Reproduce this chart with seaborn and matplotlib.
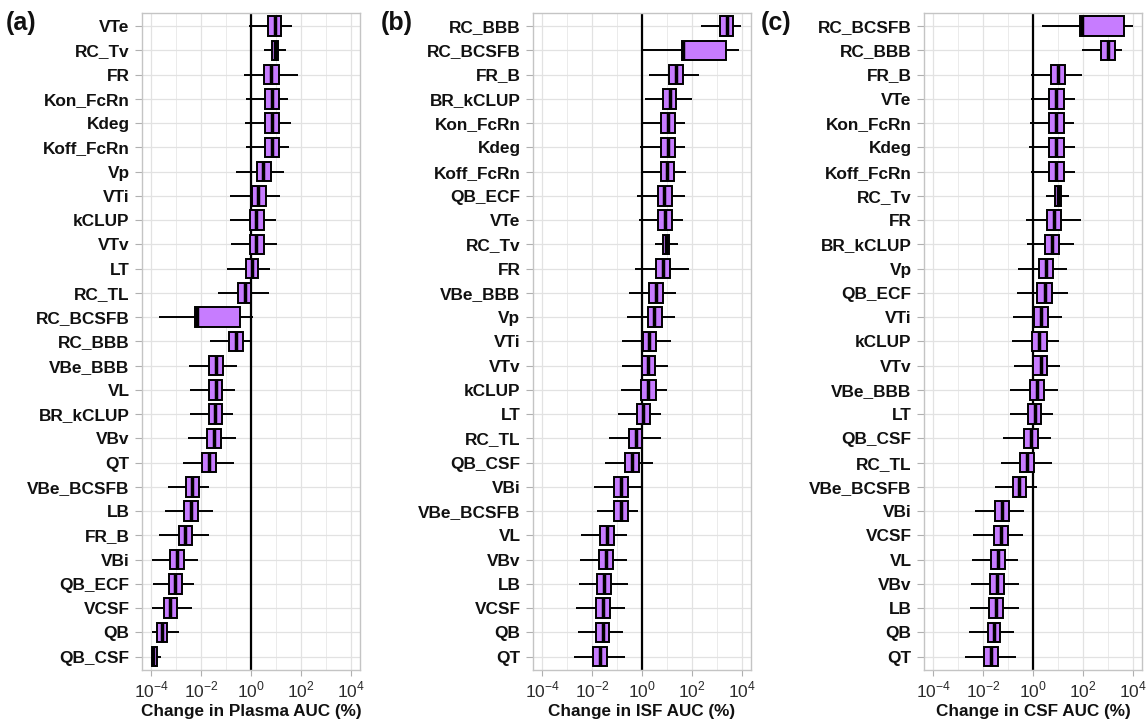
import numpy as np
import pandas as pd
import matplotlib
matplotlib.use("Agg")
import matplotlib.pyplot as plt
import seaborn as sns

sns.set_theme(style="white")
plt.rcParams['font.family'] = ['Liberation Sans', 'DejaVu Sans']
plt.rcParams['mathtext.fontset'] = 'custom'
plt.rcParams['mathtext.rm'] = 'Liberation Sans'

# ---- data (log10 of % change): whisker low, Q1, median, Q3, whisker high ----
cats_a = ["VTe", "RC_Tv", "FR", "Kon_FcRn", "Kdeg", "Koff_FcRn", "Vp", "VTi", "kCLUP", "VTv", "LT", "RC_TL",
          "RC_BCSFB", "RC_BBB", "VBe_BBB", "VL", "BR_kCLUP", "VBv", "QT", "VBe_BCSFB", "LB", "FR_B", "VBi",
          "QB_ECF", "VCSF", "QB", "QB_CSF"]
lo_a = [-0.09, 0.49, -0.29, -0.23, -0.27, -0.20, -0.63, -0.85, -0.87, -0.81, -0.96, -1.32, -3.71, -1.67, -2.49,
        -2.47, -2.45, -2.52, -2.73, -3.35, -3.44, -3.68, -3.96, -3.95, -3.97, -3.97, -3.99]
q1_a = [0.67, 0.83, 0.51, 0.56, 0.56, 0.56, 0.21, 0.03, -0.05, -0.04, -0.21, -0.52, -2.25, -0.88, -1.68, -1.69,
        -1.69, -1.76, -1.96, -2.63, -2.68, -2.91, -3.24, -3.29, -3.49, -3.76, -3.98]
med_a = [0.93, 0.95, 0.80, 0.83, 0.83, 0.83, 0.47, 0.27, 0.20, 0.20, 0.03, -0.24, -2.19, -0.63, -1.43, -1.43,
         -1.45, -1.51, -1.69, -2.37, -2.41, -2.64, -2.99, -3.04, -3.24, -3.59, -3.94]
q3_a = [1.17, 1.07, 1.09, 1.11, 1.11, 1.11, 0.77, 0.59, 0.51, 0.49, 0.28, 0.00, -0.45, -0.35, -1.13, -1.16,
        -1.17, -1.23, -1.43, -2.11, -2.12, -2.36, -2.71, -2.79, -2.99, -3.37, -3.79]
hi_a = [1.63, 1.40, 1.87, 1.48, 1.57, 1.52, 1.31, 1.13, 1.00, 1.01, 0.75, 0.71, 0.07, -0.04, -0.59, -0.64,
        -0.75, -0.61, -0.69, -1.69, -1.52, -1.71, -2.15, -2.29, -2.37, -2.91, -3.61]

cats_b = ["RC_BBB", "RC_BCSFB", "FR_B", "BR_kCLUP", "Kon_FcRn", "Kdeg", "Koff_FcRn", "QB_ECF", "VTe", "RC_Tv",
          "FR", "VBe_BBB", "Vp", "VTi", "VTv", "kCLUP", "LT", "RC_TL", "QB_CSF", "VBi", "VBe_BCSFB", "VL", "VBv",
          "LB", "VCSF", "QB", "QT"]
lo_b = [2.33, 0.04, 0.25, 0.12, 0.00, -0.08, 0.03, -0.21, -0.12, 0.49, -0.31, -0.52, -0.61, -0.83, -0.80, -0.85,
        -0.96, -1.32, -1.48, -1.92, -1.81, -2.44, -2.51, -2.55, -2.65, -2.57, -2.75]
q1_b = [3.11, 1.57, 1.07, 0.84, 0.75, 0.73, 0.73, 0.61, 0.63, 0.83, 0.53, 0.28, 0.21, 0.03, -0.03, -0.05, -0.21,
        -0.53, -0.69, -1.12, -1.12, -1.69, -1.73, -1.80, -1.84, -1.84, -1.99]
med_b = [3.37, 1.62, 1.33, 1.09, 1.01, 1.01, 1.00, 0.88, 0.91, 0.95, 0.81, 0.55, 0.47, 0.28, 0.24, 0.23, 0.04,
         -0.25, -0.40, -0.84, -0.84, -1.41, -1.47, -1.52, -1.56, -1.59, -1.71]
q3_b = [3.64, 3.35, 1.61, 1.36, 1.29, 1.29, 1.28, 1.19, 1.20, 1.08, 1.09, 0.84, 0.77, 0.55, 0.52, 0.53, 0.29,
        0.00, -0.13, -0.56, -0.56, -1.13, -1.19, -1.24, -1.28, -1.32, -1.43]
hi_b = [3.93, 3.85, 2.28, 1.97, 1.72, 1.71, 1.76, 1.72, 1.64, 1.41, 1.88, 1.36, 1.32, 1.15, 1.03, 1.00, 0.76,
        0.73, 0.43, -0.01, -0.16, -0.63, -0.60, -0.57, -0.68, -0.79, -0.69]

cats_c = ["RC_BCSFB", "RC_BBB", "FR_B", "VTe", "Kon_FcRn", "Kdeg", "Koff_FcRn", "RC_Tv", "FR", "BR_kCLUP", "Vp",
          "QB_ECF", "VTi", "kCLUP", "VTv", "VBe_BBB", "LT", "QB_CSF", "RC_TL", "VBe_BCSFB", "VBi", "VCSF", "VL",
          "VBv", "LB", "QB", "QT"]
lo_c = [0.36, 1.93, -0.09, -0.09, -0.13, -0.17, -0.09, 0.52, -0.28, -0.27, -0.60, -0.64, -0.82, -0.84, -0.78,
        -0.94, -0.94, -1.21, -1.31, -1.54, -2.35, -2.40, -2.44, -2.51, -2.55, -2.56, -2.72]
q1_c = [1.88, 2.69, 0.71, 0.64, 0.64, 0.64, 0.64, 0.86, 0.54, 0.47, 0.21, 0.16, 0.03, -0.05, 0.00, -0.13, -0.20,
        -0.39, -0.54, -0.83, -1.53, -1.58, -1.69, -1.73, -1.78, -1.82, -1.97]
med_c = [1.93, 2.98, 0.99, 0.92, 0.92, 0.92, 0.91, 0.98, 0.82, 0.74, 0.50, 0.46, 0.31, 0.24, 0.29, 0.16, 0.07,
         -0.11, -0.24, -0.56, -1.25, -1.30, -1.41, -1.46, -1.50, -1.58, -1.69]
q3_c = [3.62, 3.26, 1.26, 1.22, 1.22, 1.22, 1.21, 1.10, 1.10, 1.01, 0.79, 0.75, 0.59, 0.54, 0.54, 0.44, 0.32,
        0.17, 0.03, -0.29, -0.98, -1.02, -1.13, -1.18, -1.22, -1.33, -1.41]
hi_c = [3.99, 3.54, 1.93, 1.66, 1.62, 1.66, 1.66, 1.43, 1.89, 1.61, 1.34, 1.37, 1.15, 1.03, 1.06, 0.97, 0.78,
        0.72, 0.74, 0.13, -0.39, -0.40, -0.62, -0.59, -0.56, -0.79, -0.68]

xlabels = ["Change in Plasma AUC (%)", "Change in ISF AUC (%)", "Change in CSF AUC (%)"]
panel_tags = ["(a)", "(b)", "(c)"]
xtick_vals = [1e-4, 1e-2, 1e0, 1e2, 1e4]
xtick_text = [r"$10^{-4}$", r"$10^{-2}$", r"$10^{0}$", r"$10^{2}$", r"$10^{4}$"]
xminor_vals = [1e-3, 1e-1, 1e1, 1e3]

panels = [
    (cats_a, lo_a, q1_a, med_a, q3_a, hi_a),
    (cats_b, lo_b, q1_b, med_b, q3_b, hi_b),
    (cats_c, lo_c, q1_c, med_c, q3_c, hi_c),
]

W, H = 1148, 726
fig = plt.figure(figsize=(W / 100, H / 100), dpi=100)
lefts = [142, 533, 924]
tag_x = [6, 381, 761]
ax_w, ax_top, ax_bot = 218, 12.7, 670

for i, (cats, lo, q1, med, q3, hi) in enumerate(panels):
    ax = fig.add_axes([lefts[i] / W, (H - ax_bot) / H, ax_w / W, (ax_bot - ax_top) / H])
    stats = np.column_stack([lo, q1, med, q3, hi])
    df = pd.DataFrame({
        "param": np.repeat(cats, 5),
        "value": 10.0 ** stats.ravel(),
    })
    ax.axvline(1.0, color="black", lw=1.6, zorder=2)
    sns.boxplot(data=df, x="value", y="param", order=cats, orient="h", whis=(0, 100),
                width=0.8, color="#C77CFF", saturation=1, linecolor="black", linewidth=1.4,
                fliersize=0, showcaps=False, log_scale=True,
                medianprops=dict(linewidth=2.5, color="black"), ax=ax, zorder=3)
    n = len(cats)
    ax.set_ylim(n - 1 + 0.55, -0.55)
    ax.set_xlim(10 ** -4.37, 10 ** 4.35)
    ax.set_xticks(xtick_vals)
    ax.set_xticklabels(xtick_text)
    ax.set_xticks(xminor_vals, minor=True)
    ax.xaxis.set_minor_formatter(matplotlib.ticker.NullFormatter())
    ax.set_axisbelow(True)
    ax.grid(which="major", axis="both", color="#e2e2e2", lw=0.9)
    ax.grid(which="minor", axis="x", color="#ebebeb", lw=0.7)
    for s in ax.spines.values():
        s.set_color("#c4c4c4")
        s.set_linewidth(1.0)
    ax.tick_params(axis="y", which="major", length=5, width=0.8, color="#b0b0b0", pad=4,
                   labelsize=12.4, labelcolor="#111111", left=True)
    ax.tick_params(axis="x", which="major", length=4, width=0.8, color="#b0b0b0", pad=3,
                   labelsize=12.5, labelcolor="#2a2a2a", bottom=True)
    ax.tick_params(axis="x", which="minor", length=0)
    for lab in ax.get_yticklabels():
        lab.set_fontweight("bold")
    ax.set_ylabel("")
    ax.set_xlabel(xlabels[i], fontsize=12.3, fontweight="bold", color="#111111", labelpad=3)
    fig.text(tag_x[i] / W, 1 - 11 / H, panel_tags[i], fontsize=18, fontweight="bold",
             ha="left", va="top", color="#111111")

fig.savefig("out.png", dpi=100)
